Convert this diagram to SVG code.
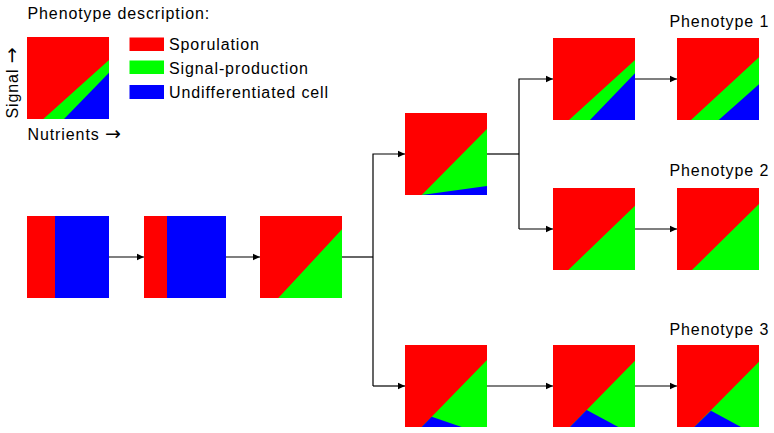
<svg xmlns="http://www.w3.org/2000/svg" width="774" height="433" viewBox="0 0 774 433">
<style>
text{font-family:"Liberation Sans",Arial,sans-serif;font-size:16px;letter-spacing:0.9px;fill:#000}
.arr{font-family:"DejaVu Sans",sans-serif;font-size:19px;letter-spacing:0}
.r{fill:#ff0000}.g{fill:#00ff00}.b{fill:#0000ff}
.c{fill:none;stroke:#000;stroke-width:1.2}
</style>
<defs>
<marker id="ah" markerWidth="8" markerHeight="8" refX="7" refY="4" orient="auto" markerUnits="userSpaceOnUse">
<path d="M0,0.8 L7,4 L0,7.2 Z" fill="#000"/>
</marker>
</defs>
<rect width="774" height="433" fill="#fff"/>
<g id="legend">
<text x="27.5" y="18.5">Phenotype description:</text>
<text transform="translate(18,118.5) rotate(-90)">Signal <tspan class="arr">→</tspan></text>
<text x="27.5" y="140">Nutrients <tspan class="arr">→</tspan></text>
<g transform="translate(27,37)">
<rect class="r" width="82" height="82"/>
<polygon class="g" points="16.3,82 82,23 82,82"/>
<polygon class="b" points="37,82 82,35.7 82,82"/>
</g>
<rect class="r" x="129.5" y="37.5" width="34.5" height="13.5"/>
<rect class="g" x="129.5" y="60.5" width="34.5" height="13.5"/>
<rect class="b" x="129.5" y="85" width="34.5" height="14"/>
<text x="169" y="49.5">Sporulation</text>
<text x="169" y="73.5">Signal-production</text>
<text x="169" y="98">Undifferentiated cell</text>
</g>
<g id="connectors">
<line class="c" x1="109" y1="257" x2="144" y2="257" marker-end="url(#ah)"/>
<line class="c" x1="226" y1="257" x2="260" y2="257" marker-end="url(#ah)"/>
<polyline class="c" points="342,257 373,257"/>
<polyline class="c" points="373,386 373,154 405,154" marker-end="url(#ah)"/>
<polyline class="c" points="373,386 405,386" marker-end="url(#ah)"/>
<polyline class="c" points="487,154 519,154"/>
<polyline class="c" points="519,229 519,79 553,79" marker-end="url(#ah)"/>
<polyline class="c" points="519,229 553,229" marker-end="url(#ah)"/>
<line class="c" x1="635" y1="79" x2="677" y2="79" marker-end="url(#ah)"/>
<line class="c" x1="635" y1="229" x2="677" y2="229" marker-end="url(#ah)"/>
<line class="c" x1="487" y1="386" x2="553" y2="386" marker-end="url(#ah)"/>
<line class="c" x1="635" y1="386" x2="677" y2="386" marker-end="url(#ah)"/>
</g>
<g id="box1" transform="translate(27,216)">
<rect class="b" width="82" height="82"/>
<rect class="r" width="28" height="82"/>
</g>
<g id="box2" transform="translate(144,216)">
<rect class="b" width="82" height="82"/>
<rect class="r" width="23" height="82"/>
</g>
<g id="box3" transform="translate(260,216)">
<rect class="r" width="82" height="82"/>
<polygon class="g" points="18.3,82 82,13.3 82,82"/>
</g>
<g id="boxA" transform="translate(405,113)">
<rect class="r" width="82" height="82"/>
<polygon class="g" points="16.7,82 82,16 82,82"/>
<polygon class="b" points="16.7,82 82,73 82,82"/>
</g>
<g id="boxB" transform="translate(553,38)">
<rect class="r" width="82" height="82"/>
<polygon class="g" points="16,82 82,22 82,82"/>
<polygon class="b" points="37,82 82,35.3 82,82"/>
</g>
<g id="phenotype1" transform="translate(677,38)">
<rect class="r" width="82" height="82"/>
<polygon class="g" points="14,82 82,19.3 82,82"/>
<polygon class="b" points="41.7,82 82,46.3 82,82"/>
</g>
<g id="boxC" transform="translate(553,188)">
<rect class="r" width="82" height="82"/>
<polygon class="g" points="15.3,82 82,17.7 82,82"/>
</g>
<g id="phenotype2" transform="translate(677,188)">
<rect class="r" width="82" height="82"/>
<polygon class="g" points="15,82 82,16 82,82"/>
</g>
<g id="boxD" transform="translate(405,345)">
<rect class="r" width="82" height="82"/>
<polygon class="g" points="16.7,82 82,15 82,82"/>
<polygon class="b" points="16.7,82 26.7,71.7 56.7,82"/>
</g>
<g id="boxE" transform="translate(553,345)">
<rect class="r" width="82" height="82"/>
<polygon class="g" points="17,82 82,15.7 82,82"/>
<polygon class="b" points="17,82 33.7,65 65.3,82"/>
</g>
<g id="phenotype3" transform="translate(677,345)">
<rect class="r" width="82" height="82"/>
<polygon class="g" points="17.3,82 82,16.7 82,82"/>
<polygon class="b" points="17.3,82 34,65.7 64,82"/>
</g>
<g id="labels">
<text x="669.5" y="27">Phenotype 1</text>
<text x="669.5" y="175.5">Phenotype 2</text>
<text x="669.5" y="335">Phenotype 3</text>
</g>
</svg>
